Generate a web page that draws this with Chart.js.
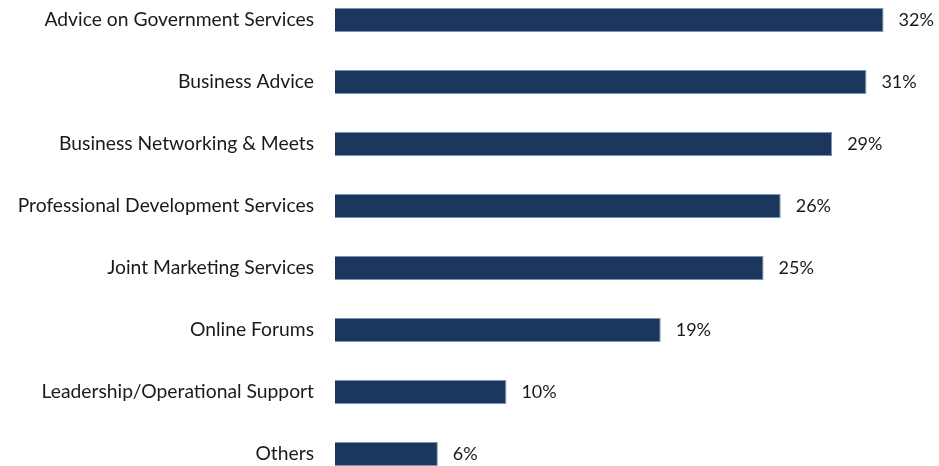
<!DOCTYPE html>
<html>
<head>
<meta charset="utf-8">
<script src="https://cdn.jsdelivr.net/npm/chart.js@4/dist/chart.umd.min.js"></script>
<style>
  html, body { margin: 0; padding: 0; background: #fff; overflow: hidden; }
  #wrap { position: absolute; left: 0; top: -11px; width: 939px; height: 496px; }
</style>
</head>
<body>
<div id="wrap"><canvas id="chart" width="939" height="496"></canvas></div>
<script>
// services wanted, share of respondents (%)
const categories = [
  'Advice on Government Services',
  'Business Advice',
  'Business Networking & Meets',
  'Professional Development Services',
  'Joint Marketing Services',
  'Online Forums',
  'Leadership/Operational Support',
  'Others'
];
const shares = [32, 31, 29, 26, 25, 19, 10, 6];

const BAR_COLOR = '#1B375E';
const TEXT_COLOR = '#1a1a1a';
const FONT = 'Lato';

// draws "NN%" just past the end of each bar
const valueLabels = {
  id: 'valueLabels',
  afterDatasetsDraw(chart) {
    const ctx = chart.ctx;
    const meta = chart.getDatasetMeta(0);
    ctx.save();
    ctx.fillStyle = TEXT_COLOR;
    ctx.font = '18px ' + FONT;
    ctx.textAlign = 'left';
    ctx.textBaseline = 'middle';
    meta.data.forEach((bar, i) => {
      ctx.fillText(shares[i] + '%', bar.x + 15, bar.y);
    });
    ctx.restore();
  }
};

new Chart(document.getElementById('chart'), {
  type: 'bar',
  data: {
    labels: categories,
    datasets: [{
      data: shares,
      backgroundColor: BAR_COLOR,
      borderColor: '#7F95B3',
      borderWidth: 1,
      categoryPercentage: 1,
      barPercentage: 0.39
    }]
  },
  options: {
    indexAxis: 'y',
    responsive: false,
    animation: false,
    layout: { padding: { left: 0, right: 4, top: 0, bottom: 0 } },
    scales: {
      x: {
        display: false,
        min: 0,
        max: 35
      },
      y: {
        grid: { display: false, drawTicks: false },
        border: { display: false },
        ticks: {
          color: TEXT_COLOR,
          font: { family: FONT, size: 19.3 },
          padding: 21
        },
        afterFit(scale) {
          scale.width = 335;
          // let the bands run to the canvas edges
          scale.paddingTop = 0;
          scale.paddingBottom = 0;
        }
      }
    },
    plugins: {
      legend: { display: false },
      tooltip: { enabled: false }
    }
  },
  plugins: [valueLabels]
});
</script>
</body>
</html>
